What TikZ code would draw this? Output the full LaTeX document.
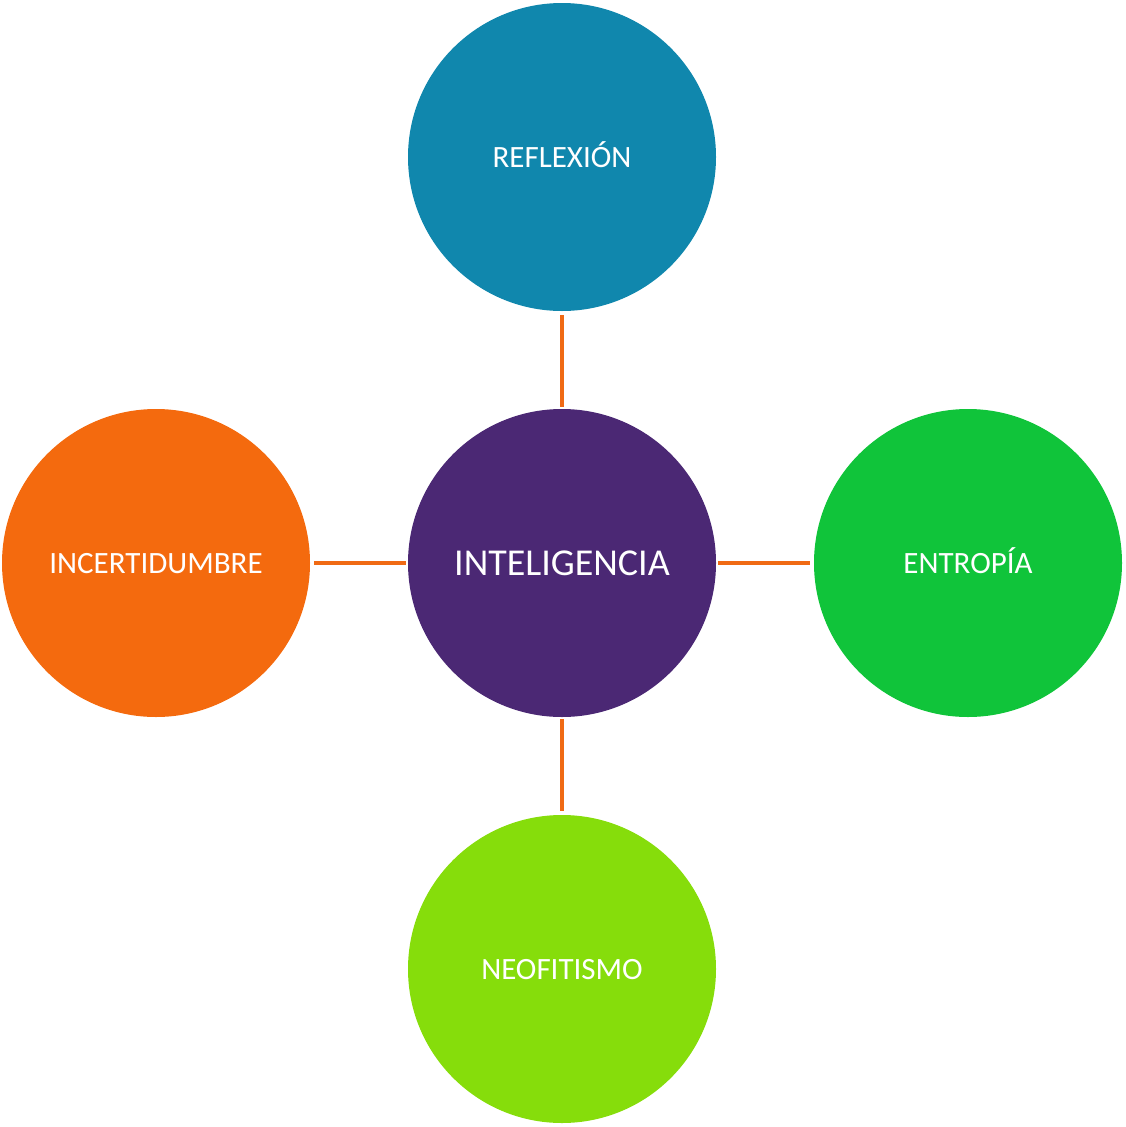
\documentclass[tikz,border=0pt]{standalone}
\usepackage{fontspec}
\setmainfont{Carlito}
\definecolor{cTop}{HTML}{1087AD}
\definecolor{cMid}{HTML}{4B2874}
\definecolor{cLeft}{HTML}{F46A0E}
\definecolor{cRight}{HTML}{10C43A}
\definecolor{cBot}{HTML}{86DD0B}
\definecolor{cLine}{HTML}{F06A14}
\begin{document}
\begin{tikzpicture}[x=1pt,y=-1pt,
  bub/.style={circle,minimum size=308pt,inner sep=0pt,text=white,font=\fontsize{31}{36}\selectfont,text height=20pt,text depth=0pt},
  link/.style={draw=cLine,line width=3.5pt}]
\useasboundingbox (0,0) rectangle (1126,1127);
\node[bub,fill=cMid,font=\fontsize{38}{44}\selectfont,text height=24.5pt] (c) at (562,563) {INTELIGENCIA};
\node[bub,fill=cTop] (t) at (562,157) {REFLEXIÓN};
\node[bub,fill=cLeft] (l) at (156,563) {INCERTIDUMBRE};
\node[bub,fill=cRight] (r) at (968,563) {ENTROPÍA};
\node[bub,fill=cBot] (b) at (562,969) {NEOFITISMO};
\draw[link,shorten <=4pt,shorten >=2pt] (t) -- (c);
\draw[link,shorten <=4pt,shorten >=2pt] (l) -- (c);
\draw[link,shorten <=2pt,shorten >=4pt] (c) -- (r);
\draw[link,shorten <=2pt,shorten >=4pt] (c) -- (b);
\end{tikzpicture}
\end{document}
